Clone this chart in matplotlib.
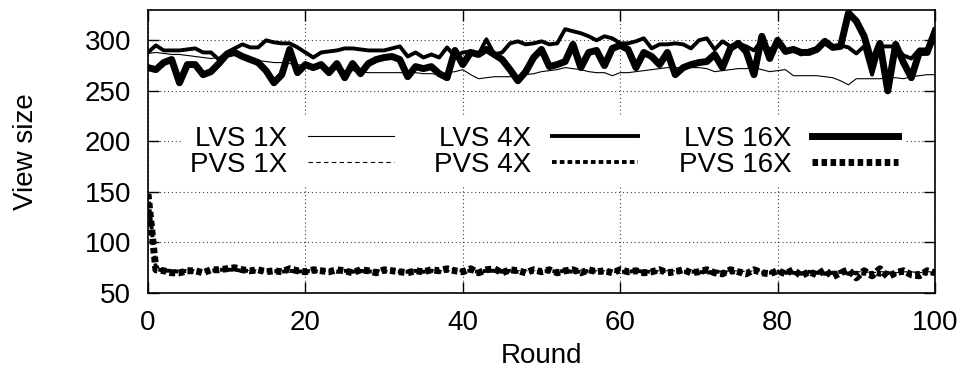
import matplotlib
matplotlib.use("Agg")
import matplotlib.pyplot as plt

plt.rcParams['font.family'] = ['Liberation Sans', 'DejaVu Sans']

rounds = list(range(101))

# LVS (upper band)
lvs_1x = [287, 288, 287, 286, 286, 285, 284, 283, 282, 283,
          285, 286, 284, 282, 280, 279, 278, 278, 277, 276,
          275, 274, 273, 272, 271, 270, 270, 269, 268, 268,
          268, 268, 268, 268, 268, 267, 267, 266, 268, 269,
          271, 266, 262, 263, 264, 264, 264, 265, 266, 267,
          269, 270, 271, 273, 272, 271, 269, 268, 268, 265,
          268, 268, 269, 270, 271, 272, 273, 273, 273, 273,
          273, 272, 269, 270, 271, 272, 272, 273, 271, 269,
          270, 271, 265, 265, 265, 265, 264, 263, 260, 256,
          262, 262, 262, 262, 263, 263, 262, 264, 265, 266,
          266]
lvs_4x = [288, 295, 290, 290, 290, 291, 292, 288, 288, 281,
          288, 292, 296, 293, 293, 300, 298, 297, 297, 293,
          288, 283, 288, 289, 290, 292, 292, 291, 290, 290,
          290, 292, 294, 284, 288, 283, 286, 283, 293, 284,
          288, 289, 286, 301, 286, 288, 297, 299, 296, 297,
          299, 296, 297, 311, 309, 307, 304, 300, 304, 302,
          297, 297, 299, 302, 292, 296, 296, 297, 296, 292,
          300, 302, 291, 299, 294, 297, 294, 290, 300, 290,
          298, 288, 290, 286, 290, 292, 297, 292, 295, 293,
          287, 294, 266, 294, 294, 294, 285, 282, 291, 291,
          300]
lvs_16x = [273, 271, 278, 281, 258, 276, 276, 266, 269, 277,
           286, 288, 284, 281, 278, 270, 258, 266, 291, 268,
           276, 273, 276, 268, 277, 263, 277, 267, 277, 281,
           283, 284, 281, 264, 274, 272, 274, 267, 263, 290,
           276, 288, 286, 291, 286, 281, 271, 260, 269, 283,
           291, 274, 276, 279, 296, 273, 288, 290, 275, 292,
           295, 291, 273, 288, 284, 276, 288, 266, 273, 276,
           278, 279, 286, 273, 292, 297, 289, 266, 304, 282,
           300, 289, 291, 288, 288, 291, 299, 293, 294, 327,
           319, 304, 277, 297, 250, 296, 278, 263, 288, 288,
           309]

# PVS (lower band)
pvs_1x = [148, 75, 73, 73, 72, 73, 73, 72, 73, 73,
          74, 73, 73, 72, 73, 72, 73, 72, 73, 72,
          72, 73, 72, 72, 73, 72, 72, 73, 72, 72,
          72, 72, 73, 72, 72, 72, 73, 72, 72, 72,
          73, 72, 72, 72, 72, 73, 72, 72, 72, 72,
          72, 72, 72, 73, 72, 72, 72, 72, 72, 72,
          72, 72, 73, 72, 72, 72, 72, 72, 71, 72,
          72, 72, 72, 71, 72, 72, 71, 72, 72, 71,
          71, 72, 71, 71, 72, 71, 71, 71, 72, 71,
          71, 71, 70, 71, 71, 70, 71, 71, 70, 71,
          71]
pvs_4x = [148, 74, 72, 72, 71, 72, 71, 72, 72, 73,
          73, 73, 72, 72, 71, 72, 72, 71, 72, 71,
          72, 71, 72, 72, 71, 72, 71, 72, 71, 72,
          71, 72, 71, 71, 72, 71, 72, 71, 72, 73,
          72, 72, 71, 72, 72, 71, 72, 71, 72, 71,
          71, 72, 71, 72, 71, 71, 72, 71, 71, 72,
          71, 71, 72, 71, 71, 71, 72, 71, 71, 71,
          71, 70, 71, 71, 70, 71, 70, 71, 70, 70,
          71, 70, 70, 69, 71, 70, 69, 70, 71, 69,
          70, 69, 70, 68, 70, 69, 70, 69, 70, 69,
          70]
pvs_16x = [148, 73, 72, 70, 70, 72, 72, 70, 73, 73,
           74, 75, 73, 72, 73, 71, 72, 71, 74, 72,
           71, 73, 72, 71, 73, 72, 70, 73, 72, 70,
           73, 72, 71, 70, 72, 71, 73, 72, 74, 72,
           71, 74, 70, 73, 74, 70, 73, 72, 70, 73,
           71, 73, 70, 72, 73, 70, 73, 71, 72, 70,
           73, 71, 72, 70, 71, 73, 70, 71, 73, 70,
           71, 73, 70, 69, 73, 71, 69, 73, 70, 69,
           72, 69, 73, 67, 71, 68, 73, 66, 70, 73,
           65, 72, 67, 74, 66, 70, 72, 68, 67, 72,
           70]

x_ticks = [0, 20, 40, 60, 80, 100]
y_ticks = [50, 100, 150, 200, 250, 300]

fig = plt.figure(figsize=(9.68, 3.86), dpi=100)
ax = fig.add_axes([0.1529, 0.2409, 0.8130, 0.7332])

# LVS: solid, PVS: dashed; thicker with scale
ax.plot(rounds, lvs_1x, color='black', lw=0.8, label='LVS 1X')
ax.plot(rounds, pvs_1x, color='black', lw=0.8, ls=(0, (4, 3)), label='PVS 1X')
ax.plot(rounds, lvs_4x, color='black', lw=2.8, label='LVS 4X')
ax.plot(rounds, pvs_4x, color='black', lw=2.8, ls=(0, (1.2, 0.8)), label='PVS 4X')
ax.plot(rounds, lvs_16x, color='black', lw=5.0, label='LVS 16X')
ax.plot(rounds, pvs_16x, color='black', lw=5.0, ls=(0, (0.8, 0.5)), label='PVS 16X')

ax.set_xlim(0, 100)
ax.set_ylim(50, 330)
ax.set_xticks(x_ticks)
ax.set_yticks(y_ticks)
ax.tick_params(direction='in', length=8, width=1, top=True, right=True,
               labelsize=20)
ax.tick_params(axis='x', pad=12.5)
ax.tick_params(axis='y', pad=12)
ax.grid(True, color='0.25', lw=0.8, ls=(0, (1, 2.5)))
for sp in ax.spines.values():
    sp.set_linewidth(1.2)

ax.set_xlabel('Round', fontsize=20, labelpad=5)
ax.set_ylabel('View size', fontsize=20, labelpad=33)

leg = ax.legend(loc='center', bbox_to_anchor=(0.503, 0.5), ncol=3,
                fontsize=20, markerfirst=False, handlelength=3.1,
                handletextpad=0.75, columnspacing=1.45, labelspacing=0.0,
                frameon=True, fancybox=False, framealpha=1,
                borderpad=0.3)
leg.get_frame().set_edgecolor('none')
leg.get_frame().set_facecolor('white')

fig.savefig('out.png', dpi=100)
